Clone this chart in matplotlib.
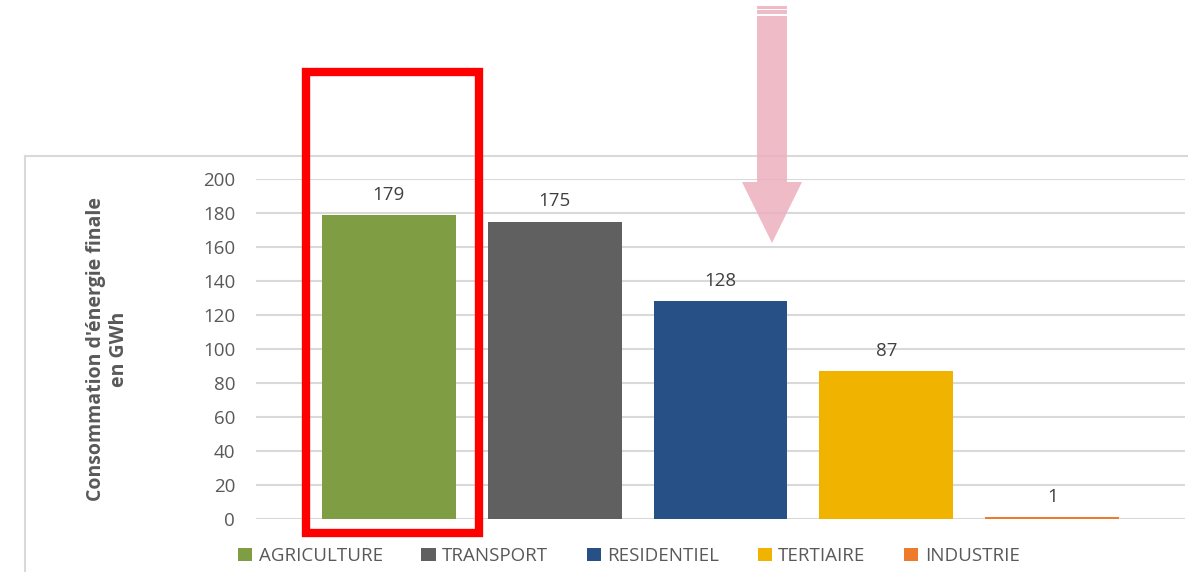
import matplotlib
matplotlib.use("Agg")
import matplotlib.pyplot as plt
from matplotlib.patches import Patch, Polygon, Rectangle
from matplotlib.lines import Line2D

plt.rcParams['font.family'] = ['Open Sans', 'DejaVu Sans']

categories = ["AGRICULTURE", "TRANSPORT", "RESIDENTIEL", "TERTIAIRE", "INDUSTRIE"]
values = [179, 175, 128, 87, 1]
colors = ["#7F9E44", "#606060", "#265086", "#F0B400", "#EE7B2C"]
yticks = [0, 20, 40, 60, 80, 100, 120, 140, 160, 180, 200]

W, H = 1188, 572
fig = plt.figure(figsize=(W / 100, H / 100), dpi=100)


def fx(px):
    return px / W


def fy(py):
    return 1 - py / H


# chart frame (top and left edges visible)
fig.add_artist(Line2D([fx(25), fx(1188)], [fy(156), fy(156)], color="#d9d9d9", lw=1.5))
fig.add_artist(Line2D([fx(25), fx(25)], [fy(156), fy(572)], color="#d9d9d9", lw=1.5))

ax = fig.add_axes([fx(256), fy(519), fx(1185) - fx(256), fy(179) - fy(519)])
x = list(range(len(categories)))
bars = ax.bar(x, values, width=0.807, color=colors, zorder=3)
ax.set_xlim(-0.80, 4.80)
ax.set_ylim(0, 200)
ax.set_yticks(yticks)
ax.set_xticks([])
ax.grid(axis="y", color="#d9d9d9", lw=1.5, zorder=0)
for s in ax.spines.values():
    s.set_visible(False)
ax.tick_params(axis="y", length=0, pad=15, labelsize=13.5, labelcolor="#595959")

for xi, v in zip(x, values):
    ax.annotate(str(v), (xi, v), xytext=(0, 8), textcoords="offset points",
                ha="center", va="bottom", fontsize=13.5, color="#404040")

fig.text(fx(108), fy(349), "Consommation d'énergie finale\nen GWh", rotation=90,
         ha="center", va="center", multialignment="center",
         fontsize=14, fontweight="bold", color="#595959")

handles = [Patch(facecolor=c, edgecolor="none") for c in colors]
fig.legend(handles, categories, loc="center", bbox_to_anchor=(fx(629), fy(556)),
           ncol=5, frameon=False, fontsize=13.5, labelcolor="#595959",
           handlelength=0.75, handleheight=0.75, handletextpad=0.35,
           columnspacing=2.05)

# red highlight box
fig.add_artist(Rectangle((fx(306), fy(533)), fx(479) - fx(306), fy(72) - fy(533),
                         fill=False, edgecolor="#FF0000", lw=6, zorder=10))

# pink arrow
pink = "#EBAFBE"
shaft = [(757, 16), (787, 16), (787, 182), (802, 182), (772, 243), (742, 182), (757, 182)]
fig.add_artist(Polygon([(fx(a), fy(b)) for a, b in shaft], closed=True,
                       facecolor=pink, edgecolor="none", alpha=0.85, zorder=10))
for y0, y1 in [(6.5, 8.5), (10, 14)]:
    fig.add_artist(Rectangle((fx(757), fy(y1)), fx(787) - fx(757), fy(y0) - fy(y1),
                             facecolor=pink, edgecolor="none", alpha=0.85, zorder=10))

fig.savefig("out.png", dpi=100)
